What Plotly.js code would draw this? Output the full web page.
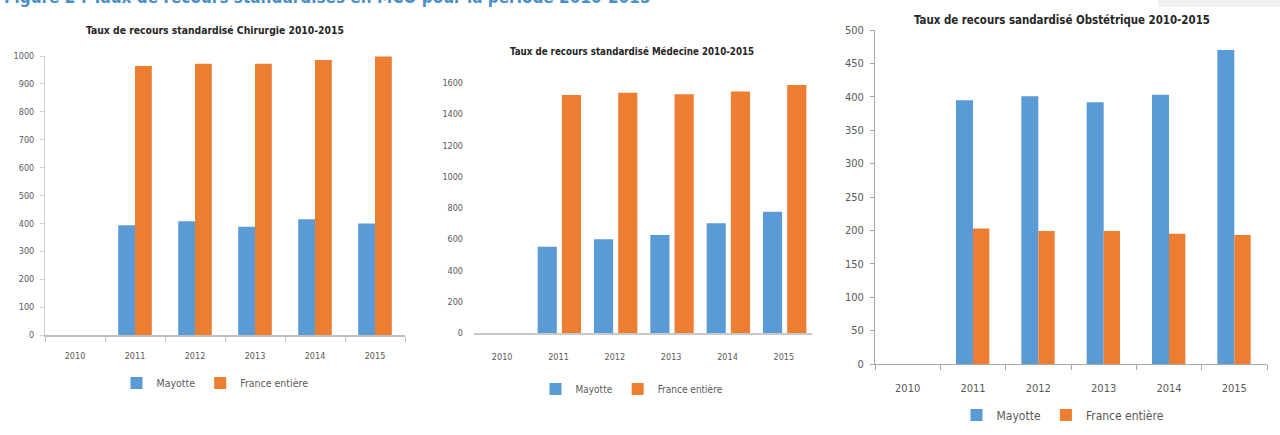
<!DOCTYPE html>
<html>
<head>
<meta charset="utf-8">
<script src="https://cdn.plot.ly/plotly-3.0.1.min.js"></script>
<style>html,body{margin:0;padding:0;background:#fff;}#chart{width:1280px;height:435px;}</style>
</head>
<body>
<div id="chart"></div>
<script>
const years = ['2010','2011','2012','2013','2014','2015'];
const seriesNames = ['Mayotte','France entière'];

const chirMayotte = [null, 393, 408, 388, 415, 400];
const chirFrance  = [null, 964, 972, 972, 986, 998];

const medMayotte  = [null, 552, 600, 627, 702, 776];
const medFrance   = [null, 1523, 1538, 1528, 1546, 1587];

const obsMayotte  = [null, 395, 401, 392, 403, 470];
const obsFrance   = [null, 203, 199, 199, 195, 193];

const titles = [
  'Taux de recours standardisé Chirurgie 2010-2015',
  'Taux de recours standardisé Médecine 2010-2015',
  'Taux de recours sandardisé Obstétrique 2010-2015'
];
const mainTitle = 'Figure 2 : Taux de recours standardisés en MCO pour la période 2010-2015';

const BLUE = '#5b9bd5', ORANGE = '#ed7d31';
const FONT = '"DejaVu Sans Condensed", "Liberation Sans Narrow", "Liberation Sans", sans-serif';
const W = 1280, H = 435;
const px = x => x / W, py = y => 1 - y / H;

function bar(x, y, name, color, xa, ya, leg, width, offset) {
  return {type:'bar', x:x, y:y, name:name, marker:{color:color}, xaxis:xa, yaxis:ya,
          legend:leg, width:width, offset:offset, showlegend:true, hoverinfo:'x+y+name'};
}

const data = [
  bar(years, chirMayotte, seriesNames[0], BLUE,   'x',  'y',  'legend',  0.28, -0.28),
  bar(years, chirFrance,  seriesNames[1], ORANGE, 'x',  'y',  'legend',  0.28,  0.0),
  bar(years, medMayotte,  seriesNames[0], BLUE,   'x2', 'y2', 'legend2', 0.34, -0.37),
  bar(years, medFrance,   seriesNames[1], ORANGE, 'x2', 'y2', 'legend2', 0.34,  0.06),
  bar(years, obsMayotte,  seriesNames[0], BLUE,   'x3', 'y3', 'legend3', 0.26, -0.26),
  bar(years, obsFrance,   seriesNames[1], ORANGE, 'x3', 'y3', 'legend3', 0.25,  0.0)
];

function xaxis(domain, anchor, fs, lc, lw, showTicks, standoff) {
  return {domain:domain, anchor:anchor, type:'category', showline:true, linecolor:lc, linewidth:lw,
          ticks: showTicks ? 'outside' : '', tickson:'boundaries', ticklen:5, tickcolor:lc,
          showgrid:false, zeroline:false,
          tickfont:{family:FONT, size:fs, color:'#595959'}, ticklabelstandoff:standoff, fixedrange:true};
}
function yaxis(domain, anchor, range, dtick, fs, lc, showLine, standoff) {
  return {domain:domain, anchor:anchor, range:range, dtick:dtick, showline:showLine, linecolor:lc, linewidth:1,
          ticks: showLine ? 'outside' : '', ticklen:4, tickcolor:lc, showgrid:false, zeroline:false,
          tickfont:{family:FONT, size:fs, color:'#595959'}, ticklabelstandoff:standoff, fixedrange:true};
}

const layout = {
  width: W, height: H,
  margin: {l:0, r:0, t:0, b:0},
  paper_bgcolor:'#ffffff', plot_bgcolor:'rgba(0,0,0,0)',
  font:{family:FONT, color:'#404040'},
  xaxis:  xaxis([px(45),  px(405)],  'y',  9,  '#bfbfbf', 1.5, true, 12),
  yaxis:  yaxis([py(335), py(56)],   'x',  [0,1000], 100, 9,  '#d0d0d0', true, 4),
  xaxis2: xaxis([px(474), px(812)],  'y2', 9,  '#c8c8c8', 1.5, false, 15),
  yaxis2: yaxis([py(333), py(83)],   'x2', [0,1600], 200, 9,  '#e0e0e0', false, 10),
  xaxis3: xaxis([px(875), px(1267)], 'y3', 11, '#a6a6a6', 1, true, 14),
  yaxis3: yaxis([py(364), py(30)],   'x3', [0,500],  50,  11, '#a6a6a6', true, 4),
  legend:  {orientation:'h', x:px(215),  xanchor:'center', y:py(383), yanchor:'middle',
            font:{family:FONT, size:10.5, color:'#595959'}, itemwidth:30, bgcolor:'rgba(0,0,0,0)'},
  legend2: {orientation:'h', x:px(632),  xanchor:'center', y:py(389), yanchor:'middle',
            font:{family:FONT, size:10, color:'#595959'}, itemwidth:30, bgcolor:'rgba(0,0,0,0)'},
  legend3: {orientation:'h', x:px(1063), xanchor:'center', y:py(415), yanchor:'middle',
            font:{family:FONT, size:12, color:'#595959'}, itemwidth:30, bgcolor:'rgba(0,0,0,0)'},
  shapes: [
    {type:'rect', xref:'paper', yref:'paper', x0:px(1158), x1:1, y0:py(7), y1:1,
     fillcolor:'#f0f0f0', line:{width:0}, layer:'below'}
  ],
  annotations: [
    {text:'<b>'+mainTitle+'</b>', xref:'paper', yref:'paper', x:px(2), xanchor:'left',
     y:py(9), yanchor:'bottom', showarrow:false, font:{family:FONT, size:17, color:'#4a90c8'}},
    {text:'<b>'+titles[0]+'</b>', xref:'paper', yref:'paper', x:px(215), xanchor:'center',
     y:py(30), yanchor:'middle', showarrow:false, font:{family:FONT, size:10.3, color:'#262626'}},
    {text:'<b>'+titles[1]+'</b>', xref:'paper', yref:'paper', x:px(632), xanchor:'center',
     y:py(52), yanchor:'middle', showarrow:false, font:{family:FONT, size:9.7, color:'#262626'}},
    {text:'<b>'+titles[2]+'</b>', xref:'paper', yref:'paper', x:px(1062), xanchor:'center',
     y:py(20), yanchor:'middle', showarrow:false, font:{family:FONT, size:11.4, color:'#262626'}}
  ]
};

Plotly.newPlot('chart', data, layout, {displayModeBar:false, staticPlot:true});
</script>
</body>
</html>
